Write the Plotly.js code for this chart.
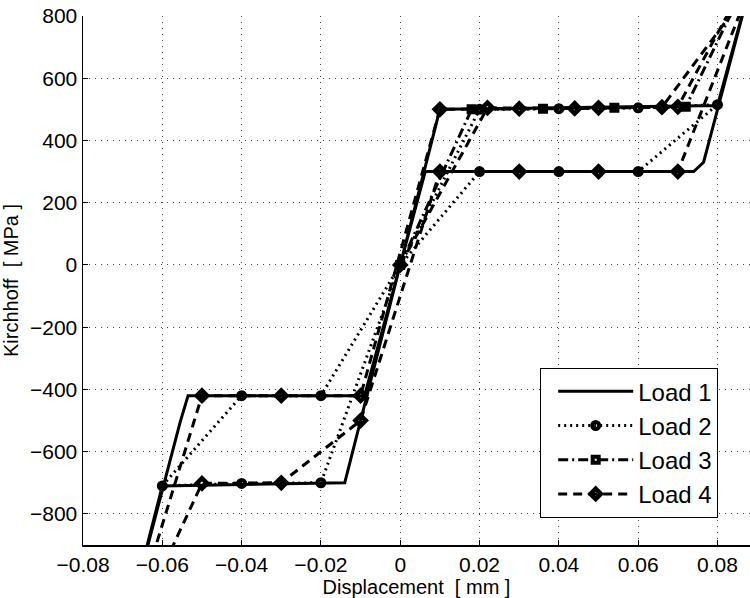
<!DOCTYPE html>
<html>
<head>
<meta charset="utf-8">
<script src="https://cdn.plot.ly/plotly-3.0.1.min.js"></script>
<style>html,body{margin:0;padding:0;background:#fff;}</style>
</head>
<body>
<div id="chart" style="width:750px;height:598px;"></div>
<script>
// Load 1 (solid)
const load1X = [0, 0.01, 0.08, 0.09, 0.0765, 0.074, 0.0063, 0, -0.014, -0.060, -0.070, -0.0555, -0.0535, -0.009, 0];
const load1Y = [0, 500, 512, 980, 330, 300, 300, 0, -700, -710, -1210, -505, -420, -420, 0];
// Load 2 (dotted, circles)
const load2X = [0, 0.02, 0.04, 0.06, 0.08, 0.06, 0.04, 0.02, 0, -0.02, -0.04, -0.06, -0.04, -0.02, 0];
const load2Y = [0, 500, 502, 505, 515, 300, 300, 300, 0, -700, -702, -710, -420, -420, 0];
// Load 3 (dash-dot, squares)
const load3X = [0, 0.018, 0.036, 0.054, 0.072, 0.09];
const load3Y = [0, 500, 502, 505, 508, 980];
// Load 4 (dashed, diamonds)
const load4X = [0, 0.022, 0.044, 0.066, 0.088, 0.07, 0.05, 0.03, 0.01, -0.01, -0.03, -0.05, -0.07, -0.05, -0.03, -0.01, 0.01, 0.03, 0.05, 0.07, 0.09];
const load4Y = [0, 505, 503, 507, 884, 300, 300, 300, 300, -500, -700, -702, -1250, -420, -420, -420, 500, 502, 505, 508, 980];

const seriesNames = ['Load 1', 'Load 2', 'Load 3', 'Load 4'];

const FONT = 'Liberation Sans, Arial, Helvetica, sans-serif';

const traces = [
  {x: load1X, y: load1Y, name: seriesNames[0], mode: 'lines',
   line: {color: '#000', width: 3, dash: 'solid'}},
  {x: load2X, y: load2Y, name: seriesNames[1], mode: 'lines+markers',
   line: {color: '#000', width: 3, dash: '2px,4px'},
   marker: {symbol: 'circle-open', size: 7, color: '#000', line: {width: 4, color: '#000'}}},
  {x: load3X, y: load3Y, name: seriesNames[2], mode: 'lines+markers',
   line: {color: '#000', width: 3, dash: '10px,4px,2px,4px'},
   marker: {symbol: 'square-open', size: 6, color: '#000', line: {width: 4, color: '#000'}}},
  {x: load4X, y: load4Y, name: seriesNames[3], mode: 'lines+markers',
   line: {color: '#000', width: 3, dash: '9px,6px'},
   marker: {symbol: 'diamond-open', size: 8, color: '#000', line: {width: 4.5, color: '#000'}}}
];

const axisCommon = {
  ticks: 'inside', ticklen: 5, tickwidth: 1, tickcolor: '#000',
  showline: true, linecolor: '#000', linewidth: 1.5,
  showgrid: true, gridcolor: '#444', gridwidth: 1, griddash: '1px,5px',
  zeroline: false,
  tickfont: {family: FONT, size: 21, color: '#000'}
};

const layout = {
  width: 750, height: 598,
  margin: {l: 83, r: 0, t: 16, b: 53, pad: 0},
  paper_bgcolor: '#fff', plot_bgcolor: '#fff',
  font: {family: FONT, color: '#000'},
  xaxis: Object.assign({}, axisCommon, {
    range: [-0.08, 0.0882], tick0: -0.08, dtick: 0.02,
    title: {text: 'Displacement\u00a0 [ mm ]', font: {family: FONT, size: 20, color: '#000'}, standoff: 0}
  }),
  yaxis: Object.assign({}, axisCommon, {
    range: [-900, 800], tick0: 0, dtick: 200,
    title: {text: 'Kirchhoff\u00a0 [ MPa ]', font: {family: FONT, size: 20, color: '#000'}, standoff: 6}
  }),
  showlegend: true,
  legend: {
    x: 0.952, y: 0.3346, xanchor: 'right', yanchor: 'top',
    bgcolor: '#fff', bordercolor: '#000', borderwidth: 1.2,
    font: {family: FONT, size: 24, color: '#000'},
    itemwidth: 75, indentation: 12, tracegroupgap: 0
  }
};

Plotly.newPlot('chart', traces, layout, {displayModeBar: false, staticPlot: true});
</script>
</body>
</html>
